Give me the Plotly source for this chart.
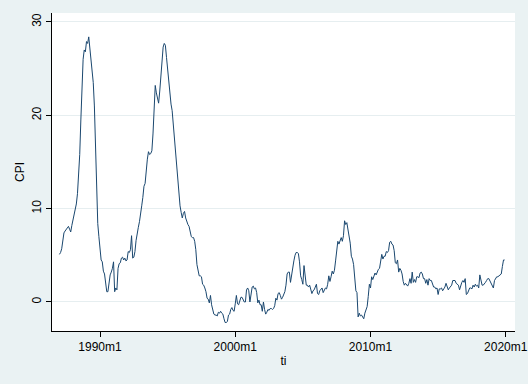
import plotly.graph_objects as go

# China CPI, year-on-year %, monthly (Stata %tm time index "ti")
cpi_1987 = [5.1, 5.3, 5.7, 6.4, 7.4, 7.6, 7.8, 7.9, 8.1, 7.8, 7.5, 8.2]
cpi_1988 = [8.7, 9.2, 9.8, 10.5, 11.6, 13.5, 15.8, 19.5, 22.7, 26.0, 27.0, 26.8]
cpi_1989 = [27.9, 27.7, 28.4, 27.3, 26.2, 25.2, 23.5, 21.0, 16.5, 11.0, 8.4, 7.0]
cpi_1990 = [5.4, 4.5, 4.3, 3.3, 3.0, 2.0, 1.1, 1.1, 2.3, 2.9, 3.2, 3.6]
cpi_1991 = [4.3, 1.1, 1.5, 1.3, 3.6, 4.1, 4.2, 4.7, 4.8, 4.5, 4.7, 4.4]
cpi_1992 = [4.5, 5.4, 5.3, 5.6, 7.1, 4.7, 4.8, 5.4, 6.6, 7.5, 8.0, 8.6]
cpi_1993 = [9.3, 10.3, 11.2, 12.4, 12.7, 14.2, 15.3, 16.1, 15.8, 15.9, 16.2, 18.0]
cpi_1994 = [20.8, 23.2, 22.4, 21.7, 21.3, 22.6, 24.0, 25.8, 27.3, 27.7, 27.5, 26.2]
cpi_1995 = [25.0, 23.3, 22.0, 21.2, 20.5, 19.0, 17.0, 15.8, 14.5, 13.2, 11.9, 10.3]
cpi_1996 = [9.6, 9.0, 9.5, 9.7, 9.0, 8.6, 8.3, 8.1, 7.6, 7.0, 6.9, 6.9]
cpi_1997 = [6.5, 5.6, 4.0, 3.2, 2.8, 2.8, 2.7, 1.9, 1.8, 1.5, 1.1, 0.4]
cpi_1998 = [0.3, -0.1, 0.7, -0.3, -1.0, -1.3, -1.4, -1.4, -1.5, -1.1, -1.2, -1.0]
cpi_1999 = [-1.2, -1.3, -1.8, -2.2, -2.2, -2.1, -1.4, -1.3, -0.8, -0.6, -0.9, -1.0]
cpi_2000 = [-0.2, 0.7, -0.2, -0.3, 0.1, 0.5, 0.5, 0.3, 0.0, 0.0, 1.3, 1.5]
cpi_2001 = [1.2, 0.0, 0.8, 1.6, 1.7, 1.4, 1.5, 1.0, -0.1, 0.2, -0.3, -0.3]
cpi_2002 = [-1.0, 0.0, -0.8, -1.3, -1.1, -0.8, -0.9, -0.7, -0.7, -0.8, -0.7, -0.4]
cpi_2003 = [0.4, 0.2, 0.9, 1.0, 0.7, 0.3, 0.5, 0.9, 1.1, 1.8, 3.0, 3.2]
cpi_2004 = [3.2, 2.1, 3.0, 3.8, 4.4, 5.0, 5.3, 5.3, 5.2, 4.3, 2.8, 2.4]
cpi_2005 = [1.9, 3.9, 2.7, 1.8, 1.8, 1.6, 1.8, 1.3, 0.9, 1.2, 1.3, 1.6]
cpi_2006 = [1.9, 0.9, 0.8, 1.2, 1.4, 1.5, 1.0, 1.3, 1.5, 1.4, 1.9, 2.8]
cpi_2007 = [2.2, 2.7, 3.3, 3.0, 3.4, 4.4, 5.6, 6.5, 6.2, 6.5, 6.9, 6.5]
cpi_2008 = [7.1, 8.7, 8.3, 8.5, 7.7, 7.1, 6.3, 4.9, 4.6, 4.0, 2.4, 1.2]
cpi_2009 = [1.0, -1.6, -1.2, -1.5, -1.4, -1.7, -1.8, -1.2, -0.8, -0.5, 0.6, 1.9]
cpi_2010 = [1.5, 2.7, 2.4, 2.8, 3.1, 2.9, 3.3, 3.5, 3.6, 4.4, 5.1, 4.6]
cpi_2011 = [4.9, 4.9, 5.4, 5.3, 5.5, 6.4, 6.5, 6.2, 6.1, 5.5, 4.2, 4.1]
cpi_2012 = [4.5, 3.2, 3.6, 3.4, 3.0, 2.2, 1.8, 2.0, 1.9, 1.7, 2.0, 2.5]
cpi_2013 = [2.0, 3.2, 2.1, 2.4, 2.1, 2.7, 2.7, 2.6, 3.1, 3.2, 3.0, 2.5]
cpi_2014 = [2.5, 2.0, 2.4, 1.8, 2.5, 2.3, 2.3, 2.0, 1.6, 1.6, 1.4, 1.5]
cpi_2015 = [0.8, 1.4, 1.4, 1.5, 1.2, 1.4, 1.6, 2.0, 1.6, 1.3, 1.5, 1.6]
cpi_2016 = [1.8, 2.3, 2.3, 2.3, 2.0, 1.9, 1.8, 1.3, 1.9, 2.1, 2.3, 2.1]
cpi_2017 = [2.5, 0.8, 0.9, 1.2, 1.5, 1.5, 1.4, 1.8, 1.6, 1.9, 1.7, 1.8]
cpi_2018 = [1.5, 2.9, 2.1, 1.8, 1.8, 1.9, 2.1, 2.3, 2.5, 2.5, 2.2, 1.9]
cpi_2019 = [1.7, 1.5, 2.3, 2.5, 2.7, 2.7, 2.8, 2.8, 3.0, 3.8, 4.5, 4.5]

cpi = (cpi_1987 + cpi_1988 + cpi_1989 + cpi_1990 + cpi_1991 + cpi_1992 + cpi_1993
       + cpi_1994 + cpi_1995 + cpi_1996 + cpi_1997 + cpi_1998 + cpi_1999 + cpi_2000
       + cpi_2001 + cpi_2002 + cpi_2003 + cpi_2004 + cpi_2005 + cpi_2006 + cpi_2007
       + cpi_2008 + cpi_2009 + cpi_2010 + cpi_2011 + cpi_2012 + cpi_2013 + cpi_2014
       + cpi_2015 + cpi_2016 + cpi_2017 + cpi_2018 + cpi_2019)

# Stata %tm index: months since 1960m1
start_tm = (1987 - 1960) * 12
ti = [start_tm + i for i in range(len(cpi))]

x_tickvals = [360, 480, 600, 720]
x_ticktext = ["1990m1", "2000m1", "2010m1", "2020m1"]
y_tickvals = [0, 10, 20, 30]

BG = "#EAF2F3"
FONT = "Liberation Sans, Arial, Helvetica, sans-serif"

fig = go.Figure()
fig.add_trace(go.Scatter(x=ti, y=cpi, mode="lines",
                         line=dict(color="#1A476F", width=1),
                         showlegend=False, hoverinfo="skip"))

fig.update_layout(
    width=528, height=384,
    margin=dict(l=52, r=13, t=13, b=53, pad=0),
    paper_bgcolor=BG, plot_bgcolor="white",
    font=dict(family=FONT, size=12, color="black"),
    hovermode=False,
    xaxis=dict(range=[317.4, 728.2], tickvals=x_tickvals, ticktext=x_ticktext,
               showgrid=False, zeroline=False, showline=True, linecolor="black",
               linewidth=1, ticks="outside", ticklen=5, tickcolor="black",
               tickfont=dict(size=12), automargin=False,
               title=dict(text="ti", standoff=3, font=dict(size=12))),
    yaxis=dict(range=[-3.11, 30.96], tickvals=y_tickvals, tickangle=-90,
               showgrid=True, gridcolor="#E6EEF0", gridwidth=1, zeroline=False,
               showline=True, linecolor="black", linewidth=1, ticks="outside",
               ticklen=5, tickcolor="black", tickfont=dict(size=12), automargin=False,
               title=dict(text="CPI", standoff=3, font=dict(size=12))),
)

fig.write_html("out.html",
               config={"displayModeBar": False, "staticPlot": True},
               post_script="document.body.style.margin='0';document.body.style.background='#EAF2F3';")
